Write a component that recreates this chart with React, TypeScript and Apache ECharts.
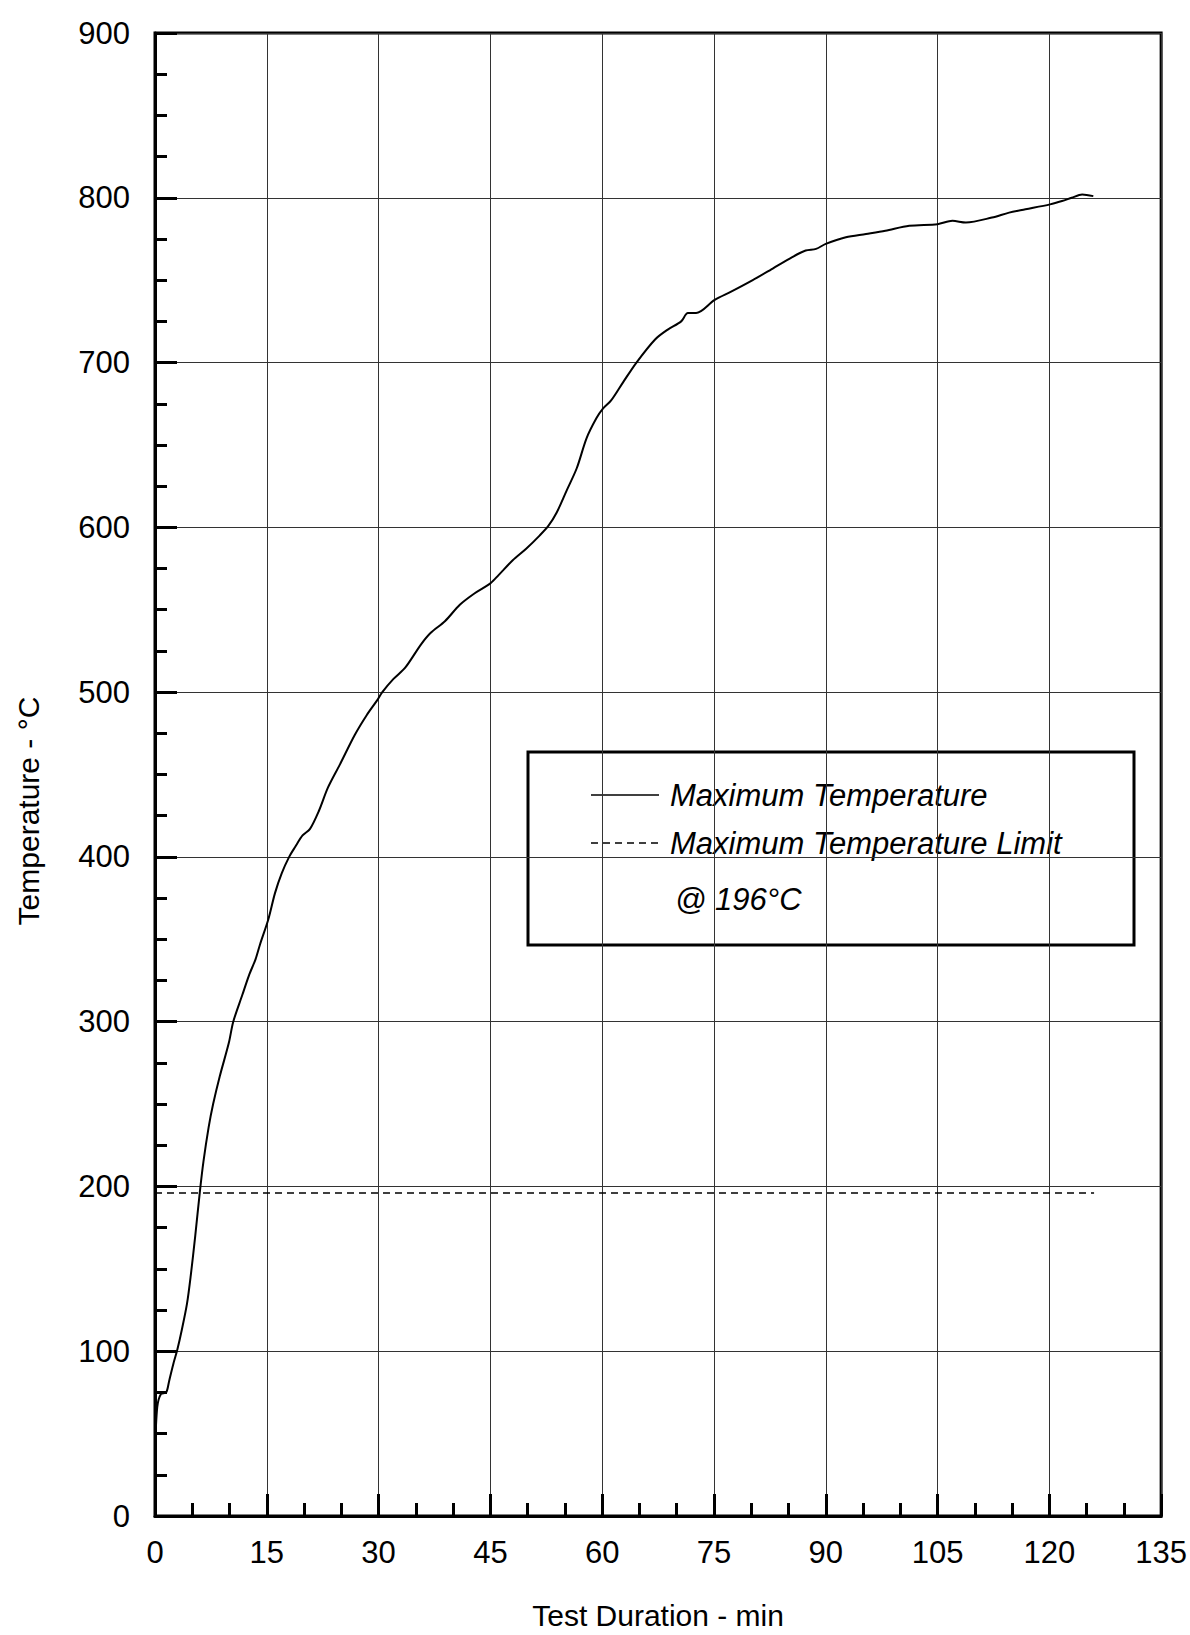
import React, { useEffect, useRef } from "react";
import * as echarts from "echarts";

// Test duration (min) and maximum temperature (°C)
const timeMin = [
  0, 0.3, 0.8, 1.5, 1.9, 2.5, 3.0, 3.6, 4.3, 4.8, 5.4, 6.0, 6.5, 7.2, 7.8, 8.7, 9.9, 10.5,
  11.7, 12.6, 13.5, 14.1, 15.2, 16.1, 17.0, 18.0, 18.8, 19.8, 20.8, 22.0, 23.2, 24.8, 26.8,
  28.4, 29.8, 30.5, 32.0, 33.6, 35.7, 37.0, 38.9, 40.9, 42.9, 45.0, 46.1, 48.0, 49.8, 51.6,
  52.8, 53.9, 55.2, 56.6, 57.9, 59.2, 60.1, 61.2, 62.8, 64.6, 67.1, 68.8, 70.6, 71.5, 72.6,
  75.1, 77.3, 80.2, 82.5, 85.5, 87.3, 88.7, 90.0, 92.7, 95.4, 98.0, 101.2, 105.0, 107.0,
  108.8, 112.3, 114.6, 116.8, 120.1, 121.7, 123.0, 124.4, 125.9,
];
const maxTemp = [
  38, 66, 74, 75, 82, 93, 101, 113, 129, 146, 170, 196, 215, 236, 250, 267, 287, 300,
  316, 328, 338, 347, 362, 378, 390, 400, 406, 413, 417, 428, 442, 456, 474,
  486, 495, 500, 508, 515, 529, 536, 543, 553, 560, 566, 571, 580, 587, 595,
  601, 609, 622, 636, 654, 666, 672, 677, 688, 700, 714, 720, 725, 730, 730,
  738, 743, 750, 756, 764, 768, 769, 772, 776, 778, 780, 783, 784, 786,
  785, 788, 791, 793, 796, 798, 800, 802, 801,
];
// Maximum temperature limit
const limitTime = [0, 126];
const limitTemp = [196, 196];

const xTicks = { min: 0, max: 135, interval: 15 };
const yTicks = { min: 0, max: 900, interval: 100 };

const legendLabels = ["Maximum Temperature", "Maximum Temperature Limit", "@ 196°C"];

const FONT = '"Liberation Sans", Arial, Helvetica, sans-serif';

export default function App() {
  const ref = useRef<HTMLDivElement>(null);
  useEffect(() => {
    if (!ref.current) return;
    const chart = echarts.init(ref.current, null, { renderer: "svg" });
    const seriesMain = timeMin.map((t, i) => [t, maxTemp[i]]);
    const seriesLimit = limitTime.map((t, i) => [t, limitTemp[i]]);
    const axisCommon = {
      axisLine: { show: true, onZero: false, lineStyle: { color: "#000", width: 3 } },
      axisTick: { show: true, inside: true, length: 22, lineStyle: { color: "#000", width: 3 } },
      splitLine: { show: true, lineStyle: { color: "#333", width: 1 } },
    };
    chart.setOption({
      animation: false,
      backgroundColor: "#fff",
      grid: {
        left: 155,
        right: 27,
        top: 33,
        bottom: 1635 - 1517,
        show: true,
        borderColor: "#000",
        borderWidth: 3,
        backgroundColor: "transparent",
      },
      xAxis: {
        type: "value",
        ...xTicks,
        ...axisCommon,
        minorTick: { show: true, splitNumber: 3, length: 13, lineStyle: { color: "#000", width: 3 } },
        axisLabel: {
          fontSize: 31,
          fontFamily: FONT,
          color: "#000",
          margin: 21,
          showMinLabel: true,
          showMaxLabel: true,
          hideOverlap: false,
        },
        name: "Test Duration - min",
        nameLocation: "middle",
        nameGap: 84,
        nameTextStyle: { fontSize: 30, fontFamily: FONT, color: "#000" },
      },
      yAxis: {
        type: "value",
        ...yTicks,
        ...axisCommon,
        minorTick: { show: true, splitNumber: 4, length: 12, lineStyle: { color: "#000", width: 3 } },
        axisLabel: {
          fontSize: 31,
          fontFamily: FONT,
          color: "#000",
          margin: 25,
          padding: [0, 0, 12, 0],
          showMinLabel: true,
          showMaxLabel: true,
        },
      },
      series: [
        {
          name: legendLabels[0],
          type: "line",
          data: seriesMain,
          showSymbol: false,
          symbol: "none",
          smooth: 0.3,
          lineStyle: { color: "#000", width: 2 },
          z: 5,
        },
        {
          name: legendLabels[1],
          type: "line",
          data: seriesLimit,
          showSymbol: false,
          symbol: "none",
          lineStyle: { color: "#000", width: 1.5, type: [7, 5] },
          z: 4,
        },
      ],
      graphic: [
        {
          type: "text",
          x: 28,
          y: 811,
          rotation: Math.PI / 2,
          style: {
            text: "Temperature - °C",
            font: `30px ${FONT}`,
            fill: "#000",
            align: "center",
            verticalAlign: "middle",
            textAlign: "center",
            textVerticalAlign: "middle",
          },
        },
        {
          type: "group",
          z: 100,
          children: [
            {
              type: "rect",
              shape: { x: 528, y: 752, width: 606, height: 193 },
              style: { fill: "#fff", stroke: "#000", lineWidth: 3 },
            },
            {
              type: "line",
              shape: { x1: 591, y1: 795, x2: 659, y2: 795 },
              style: { stroke: "#000", lineWidth: 1.5 },
            },
            {
              type: "text",
              x: 670,
              y: 795,
              style: {
                text: legendLabels[0],
                font: `italic 31px ${FONT}`,
                fill: "#000",
                verticalAlign: "middle",
                textVerticalAlign: "middle",
              },
            },
            {
              type: "line",
              shape: { x1: 591, y1: 843, x2: 659, y2: 843 },
              style: { stroke: "#000", lineWidth: 1.5, lineDash: [7, 5] },
            },
            {
              type: "text",
              x: 670,
              y: 843,
              style: {
                text: legendLabels[1],
                font: `italic 31px ${FONT}`,
                fill: "#000",
                verticalAlign: "middle",
                textVerticalAlign: "middle",
              },
            },
            {
              type: "text",
              x: 675,
              y: 899,
              style: {
                text: legendLabels[2],
                font: `italic 31px ${FONT}`,
                fill: "#000",
                verticalAlign: "middle",
                textVerticalAlign: "middle",
              },
            },
          ],
        },
      ],
    });
    return () => chart.dispose();
  }, []);
  return (
    <div
      ref={ref}
      style={{ position: "absolute", left: 0, top: 0, width: 1190, height: 1635 }}
    />
  );
}
